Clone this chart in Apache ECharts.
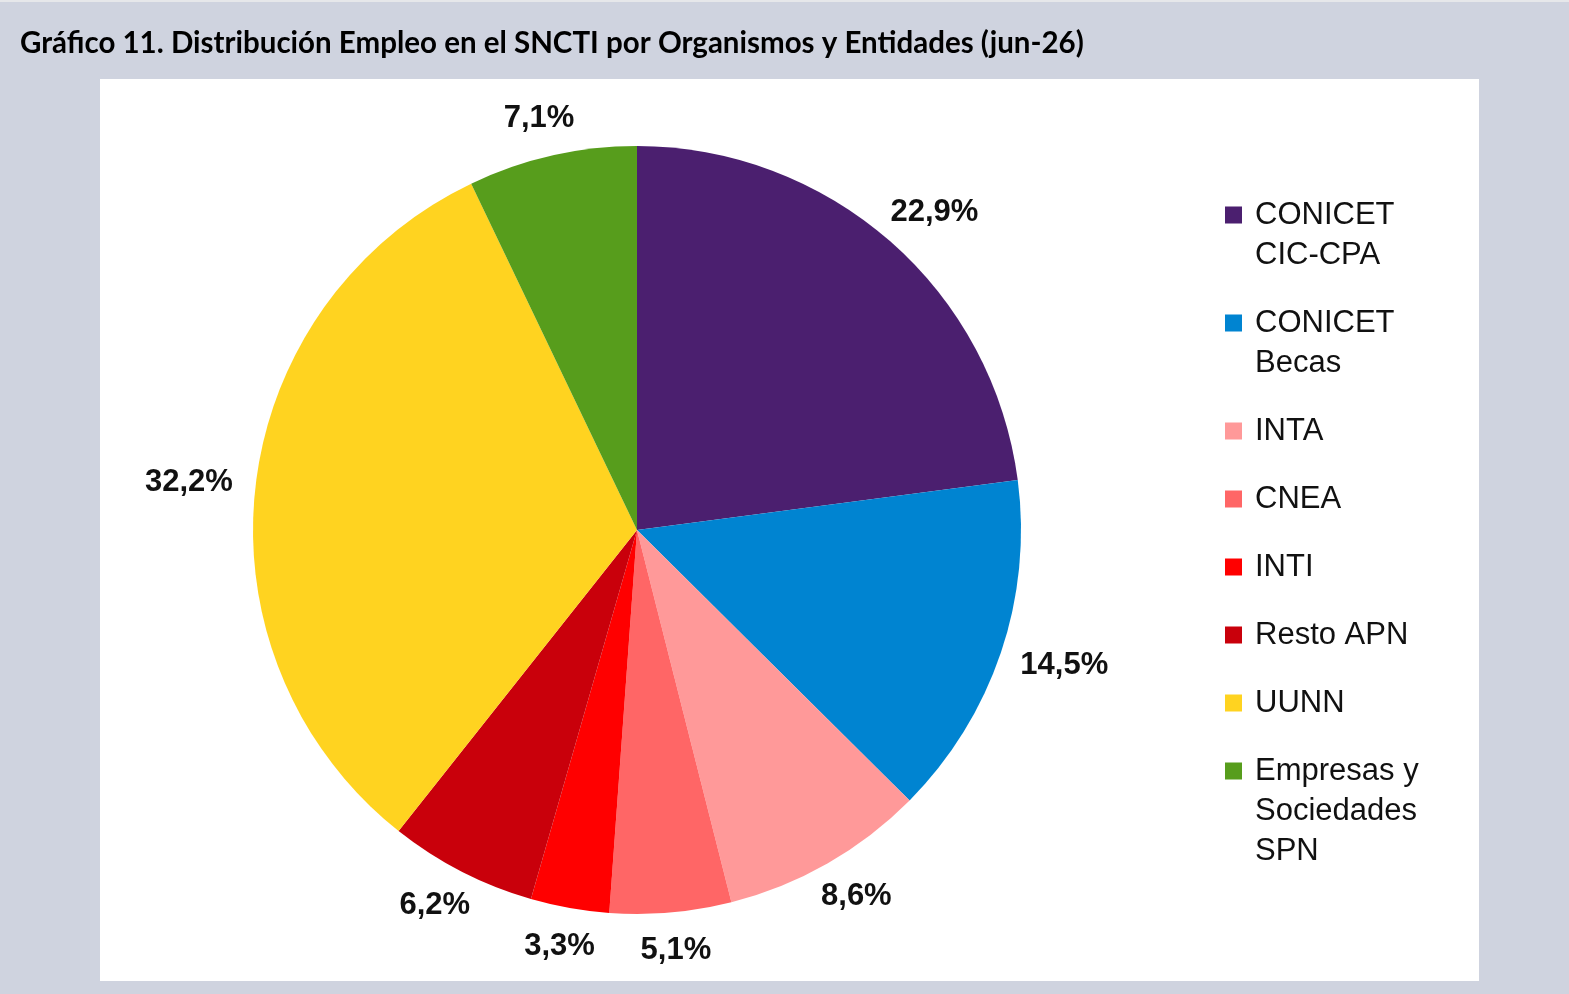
<!DOCTYPE html>
<html>
<head>
<meta charset="utf-8">
<script src="https://cdn.jsdelivr.net/npm/echarts@6/dist/echarts.min.js"></script>
<style>
  html, body { margin: 0; padding: 0; background: #cfd3df; }
  #chart { width: 1569px; height: 994px; }
</style>
</head>
<body>
<div id="chart"></div>
<script>
// ---- data ----
const titleText = 'Gráfico 11. Distribución Empleo en el SNCTI por Organismos y Entidades (jun-26)';
const categories = ['CONICET CIC-CPA', 'CONICET Becas', 'INTA', 'CNEA', 'INTI', 'Resto APN', 'UUNN', 'Empresas y Sociedades SPN'];
const legendLabels = ['CONICET\nCIC-CPA', 'CONICET\nBecas', 'INTA', 'CNEA', 'INTI', 'Resto APN', 'UUNN', 'Empresas y\nSociedades\nSPN'];
const values = [22.9, 14.5, 8.6, 5.1, 3.3, 6.2, 32.2, 7.1];
const colors = ['#4b1f6f', '#0084d1', '#ff9999', '#ff6666', '#ff0000', '#c9000b', '#ffd320', '#579d1c'];

// ---- layout ----
const CX = 637, CY = 530, R = 384, GAP = 23;
const LINE_H = 40, ICON = 17, ITEM_GAP = 28;
const LEGEND_LEFT = 1225, FIRST_LINE_CENTER = 215;
const total = values.reduce((a, b) => a + b, 0);

const chart = echarts.init(document.getElementById('chart'));

// one legend block per entry so multi-line entries keep their marker on the first line
const legends = [];
let lineCenter = FIRST_LINE_CENTER;
categories.forEach((name, i) => {
  const lines = legendLabels[i].split('\n').length;
  const boxH = ICON + (lines - 1) * LINE_H;
  legends.push({
    orient: 'vertical',
    left: LEGEND_LEFT,
    top: lineCenter - LINE_H / 2,
    padding: 0,
    itemWidth: ICON,
    itemHeight: boxH,
    itemGap: 0,
    selectedMode: false,
    data: [{
      name: name,
      icon: 'path://M0,0L' + ICON + ',0L' + ICON + ',' + ICON + 'L0,' + ICON + 'Z M0,' + boxH
    }],
    formatter: () => legendLabels[i],
    textStyle: {
      fontFamily: 'Liberation Sans, Arial, sans-serif',
      fontSize: 31,
      lineHeight: LINE_H,
      color: '#111',
      padding: [0, 0, 0, 8]
    }
  });
  lineCenter += lines * LINE_H + ITEM_GAP;
});

chart.setOption({
  backgroundColor: '#cfd3df',
  animation: false,
  title: {
    text: titleText,
    left: 20,
    top: 28,
    padding: 0,
    textStyle: { fontFamily: 'Lato', fontWeight: 'bold', fontSize: 29.5, color: '#000' }
  },
  graphic: [{
    type: 'rect',
    z: -10,
    shape: { x: 100, y: 79, width: 1379, height: 902 },
    style: { fill: '#ffffff' }
  }, {
    type: 'rect',
    z: -10,
    shape: { x: 0, y: 0, width: 1569, height: 2 },
    style: { fill: '#e6e7ea' }
  }],
  legend: legends,
  series: [{
    type: 'pie',
    center: [CX, CY],
    radius: [0, R],
    startAngle: 90,
    clockwise: true,
    avoidLabelOverlap: false,
    data: categories.map((name, i) => ({ name: name, value: values[i], itemStyle: { color: colors[i] } })),
    itemStyle: { borderWidth: 0 },
    emphasis: { disabled: true },
    label: {
      show: true,
      position: 'outside',
      fontFamily: 'Liberation Sans, Arial, sans-serif',
      fontWeight: 'bold',
      fontSize: 31,
      color: '#111',
      formatter: p => p.value.toFixed(1).replace('.', ',') + '%'
    },
    labelLine: { show: false },
    labelLayout: function (p) {
      const i = p.dataIndex;
      let before = 0;
      for (let j = 0; j < i; j++) before += values[j];
      const mid = (before + values[i] / 2) / total * Math.PI * 2;
      const ux = Math.sin(mid), uy = -Math.cos(mid);
      const w = p.labelRect.width, h = p.labelRect.height;
      return {
        x: CX + ux * (R + GAP) + ux * w / 2,
        y: CY + uy * (R + GAP) + uy * h / 2,
        align: 'center',
        verticalAlign: 'middle'
      };
    }
  }]
});
</script>
</body>
</html>
